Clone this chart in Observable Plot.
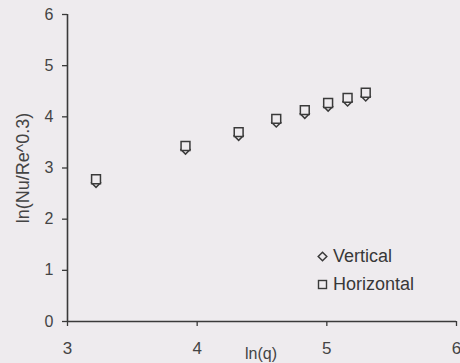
<!DOCTYPE html>
<html>
<head>
<meta charset="utf-8">
<script src="https://cdn.jsdelivr.net/npm/d3@7"></script>
<script src="https://cdn.jsdelivr.net/npm/@observablehq/plot@0.6"></script>
<style>
  html, body { margin: 0; padding: 0; background: #eeebee; }
  #wrap { position: relative; width: 460px; height: 363px; overflow: hidden; }
  .lg { position: absolute; left: 317px; height: 28px; line-height: 28px; font-family: "Liberation Sans", Arial, sans-serif; font-size: 18px; color: #383838; white-space: nowrap; }
  .lg svg { position: absolute; left: 0; top: 9px; }
  .lg span { position: absolute; left: 16px; top: 0; }
</style>
</head>
<body>
<div id="wrap"></div>
<script>
const lnQ = [3.22, 3.91, 4.32, 4.61, 4.83, 5.01, 5.16, 5.30];
const vertical = [2.71, 3.36, 3.63, 3.89, 4.06, 4.20, 4.30, 4.40];
const horizontal = [2.78, 3.43, 3.70, 3.96, 4.13, 4.27, 4.37, 4.47];
const xTicks = [3, 4, 5, 6];
const yTicks = [0, 1, 2, 3, 4, 5, 6];
const seriesNames = ["Vertical", "Horizontal"];

const vData = lnQ.map((x, i) => ({x, y: vertical[i]}));
const hData = lnQ.map((x, i) => ({x, y: horizontal[i]}));

const ink = "#3a3a3a";
const bg = "#eeebee";
const chart = Plot.plot({
  width: 460,
  height: 363,
  marginLeft: 67,
  marginRight: 4,
  marginTop: 14,
  marginBottom: 42,
  style: {background: "transparent", fontFamily: "Liberation Sans, Arial, sans-serif", color: "#444"},
  x: {domain: [3, 6]},
  y: {domain: [0, 6]},
  marks: [
    Plot.ruleY([0], {stroke: ink, strokeWidth: 1.6}),
    Plot.ruleX([3], {stroke: ink, strokeWidth: 1.6}),
    Plot.axisY({ticks: yTicks, tickSize: 5, tickPadding: 9, tickFormat: d3.format("d"), label: null, stroke: ink, strokeWidth: 1.3, fill: "#444", fontSize: 16}),
    Plot.axisX({ticks: xTicks, tickSize: 5, tickPadding: 15, tickFormat: d3.format("d"), label: null, stroke: ink, strokeWidth: 1.3, fill: "#444", fontSize: 17}),
    Plot.dot(vData, {x: "x", y: "y", symbol: "diamond2", r: 4.1, stroke: ink, strokeWidth: 1.5, fill: bg}),
    Plot.dot(hData, {x: "x", y: "y", symbol: "square", r: 5, stroke: ink, strokeWidth: 1.5, fill: bg}),
    Plot.text(["ln(q)"], {frameAnchor: "bottom", lineAnchor: "top", dy: 26, dx: -1, fontSize: 16, fill: "#444"}),
    Plot.text(["ln(Nu/Re^0.3)"], {frameAnchor: "left", textAnchor: "middle", dx: -44, dy: 0, rotate: -90, fontSize: 18, fill: "#444"})
  ]
});
const wrap = document.getElementById("wrap");
wrap.appendChild(chart);

const symbols = [
  `<svg width="11" height="11" viewBox="-5.5 -5.5 11 11"><path d="M0,-4.3L4.3,0L0,4.3L-4.3,0Z" fill="none" stroke="${ink}" stroke-width="1.5"/></svg>`,
  `<svg width="11" height="11" viewBox="-5.5 -5.5 11 11"><rect x="-4" y="-4" width="8" height="8" fill="none" stroke="${ink}" stroke-width="1.4"/></svg>`
];
seriesNames.forEach((name, i) => {
  const row = document.createElement("div");
  row.className = "lg";
  row.style.top = (242 + i * 28) + "px";
  row.innerHTML = symbols[i] + `<span>${name}</span>`;
  wrap.appendChild(row);
});
</script>
</body>
</html>
